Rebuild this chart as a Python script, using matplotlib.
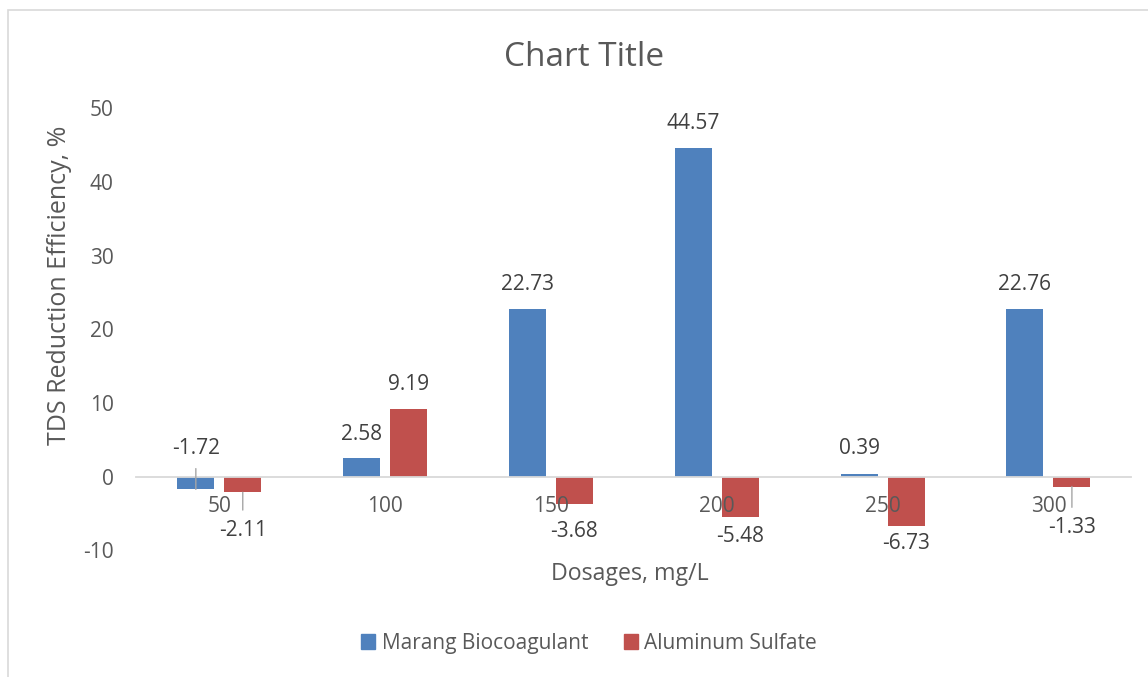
import numpy as np
import matplotlib
matplotlib.use("Agg")
import matplotlib.pyplot as plt
from matplotlib.patches import Rectangle, Patch

plt.rcParams['font.family'] = ['Open Sans', 'DejaVu Sans']
plt.rcParams['axes.unicode_minus'] = False

# dosage categories and TDS reduction efficiency (%)
dosages = ["50", "100", "150", "200", "250", "300"]
marang = [-1.72, 2.58, 22.73, 44.57, 0.39, 22.76]
alum = [-2.11, 9.19, -3.68, -5.48, -6.73, -1.33]
series_names = ["Marang Biocoagulant", "Aluminum Sulfate"]

# label placement (pixels from bar end) and which labels get a leader line
marang_lbl_dy = [41, 23, 25, 25, 25, 25]
alum_lbl_dy = [-38, 25, -28, -19, -17, -41]
marang_leader = [True, False, False, False, False, False]
alum_leader = [True, False, False, False, False, True]

blue = '#4F81BD'
red = '#C0504D'
axis_txt = '#595959'
lbl_txt = '#404040'
light = '#D9D9D9'

fig = plt.figure(figsize=(11.48, 6.77), dpi=100)
ax = fig.add_axes([0.1188, 0.187, 0.8667, 0.653])

x = np.arange(len(dosages))
w = 0.223
off = 0.1415
ax.bar(x - off, marang, width=w, color=blue, linewidth=0)
ax.bar(x + off, alum, width=w, color=red, linewidth=0)

ax.set_xlim(-0.5, len(dosages) - 0.5)
ax.set_ylim(-10, 50)
ax.set_yticks(range(-10, 51, 10))
ax.set_xticks(x)
ax.set_xticklabels(dosages)

for s in ['left', 'right', 'top']:
    ax.spines[s].set_visible(False)
ax.spines['bottom'].set_position(('data', 0))
ax.spines['bottom'].set_color(light)
ax.spines['bottom'].set_linewidth(1.3)
ax.tick_params(axis='both', length=0, labelsize=15, labelcolor=axis_txt)
ax.tick_params(axis='y', pad=16.5)
ax.tick_params(axis='x', pad=14)

def add_labels(xs, vals, dys, leaders):
    for xi, v, dy, lead in zip(xs, vals, dys, leaders):
        kw = {}
        if lead:
            kw['arrowprops'] = dict(arrowstyle='-', color='#A6A6A6', lw=1,
                                    shrinkA=5, shrinkB=0)
        ax.annotate(f"{v:.2f}", xy=(xi, v), xytext=(0, dy),
                    textcoords='offset pixels', ha='center', va='center',
                    fontsize=15, color=lbl_txt, **kw)

add_labels(x - off, marang, marang_lbl_dy, marang_leader)
add_labels(x + off, alum, alum_lbl_dy, alum_leader)

ax.set_title("Chart Title", fontsize=24, color=axis_txt, pad=0, x=0.45, y=1.095)
ax.set_ylabel("TDS Reduction Efficiency, %", fontsize=18, color=axis_txt)
ax.yaxis.set_label_coords(-0.0775, 0.6)
ax.yaxis.label.set_verticalalignment('center')
ax.set_xlabel("Dosages, mg/L", fontsize=16.7, color=axis_txt)
ax.xaxis.set_label_coords(0.496, -0.054)
ax.xaxis.label.set_verticalalignment('center')

handles = [Patch(color=blue), Patch(color=red)]
fig.legend(handles, series_names, loc='center', bbox_to_anchor=(0.513, 0.050),
           ncol=2, frameon=False, fontsize=15, labelcolor=axis_txt,
           handlelength=0.7, handleheight=0.7, handletextpad=0.3,
           columnspacing=1.7)

# chart area outline
fig.patches.append(Rectangle((8 / 1148, -0.1), 1.2, (677 - 10) / 677 + 0.1,
                             transform=fig.transFigure, fill=False,
                             edgecolor=light, linewidth=1.2))

fig.savefig("out.png", dpi=100)
